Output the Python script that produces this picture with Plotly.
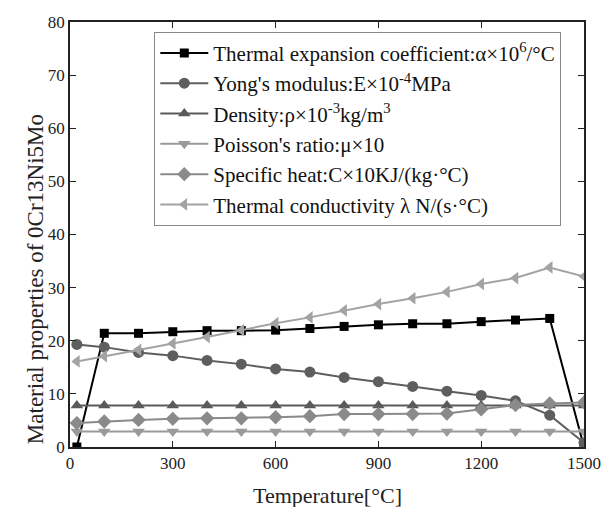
import plotly.graph_objects as go

temps = [20, 100, 200, 300, 400, 500, 600, 700, 800, 900, 1000, 1100, 1200, 1300, 1400, 1500]
thermal_expansion = [0, 21.4, 21.4, 21.7, 21.9, 21.9, 22.0, 22.3, 22.7, 23.0, 23.2, 23.2, 23.6, 23.9, 24.2, 0]
youngs_modulus = [19.3, 18.8, 17.8, 17.2, 16.3, 15.6, 14.7, 14.1, 13.1, 12.3, 11.4, 10.5, 9.7, 8.7, 6.0, 0.8]
density = [7.8] * 16
poisson = [2.9] * 16
specific_heat = [4.5, 4.8, 5.1, 5.3, 5.4, 5.4, 5.6, 5.8, 6.2, 6.2, 6.2, 6.3, 7.1, 7.9, 8.2, 8.4]
conductivity = [16.1, 17.1, 18.3, 19.5, 20.7, 22.0, 23.3, 24.4, 25.7, 26.9, 28.0, 29.2, 30.7, 31.8, 33.8, 32.1]

names = [
    "Thermal expansion coefficient:α×10<sup>6</sup>/°C",
    "Yong's modulus:E×10<sup>-4</sup>MPa",
    "Density:ρ×10<sup>-3</sup>kg/m<sup>3</sup>",
    "Poisson's ratio:μ×10",
    "Specific heat:C×10KJ/(kg·°C)",
    "Thermal conductivity λ N/(s·°C)",
]
series = [thermal_expansion, youngs_modulus, density, poisson, specific_heat, conductivity]
colors = ["#000000", "#5e5e5e", "#5a5a5a", "#9a9a9a", "#8a8a8a", "#a3a3a3"]
symbols = ["square", "circle", "triangle-up", "triangle-down", "diamond", "triangle-left"]
msizes = [9, 11, 11, 11, 11, 11]

fig = go.Figure()
for i, (nm, ys) in enumerate(zip(names, series)):
    fig.add_trace(go.Scatter(
        x=temps, y=ys, name=nm, mode="lines+markers",
        legendgroup=f"g{i}",
        line=dict(color=colors[i], width=2),
        marker=dict(symbol=symbols[i], size=msizes[i], color=colors[i]),
    ))

font_family = "Liberation Serif"
axis_common = dict(
    showline=True, linecolor="#222", linewidth=1.5, mirror="allticks",
    ticks="inside", ticklen=6, tickwidth=1.2, tickcolor="#222",
    showgrid=False, zeroline=False, ticklabeloverflow="allow",
    tickfont=dict(family=font_family, size=17, color="#222"),
)
fig.update_xaxes(range=[0, 1500], tickvals=[0, 300, 600, 900, 1200, 1500], **axis_common)
fig.update_yaxes(range=[0, 80], tickvals=list(range(0, 81, 10)), **axis_common)

fig.add_annotation(text="Material properties of 0Cr13Ni5Mo", textangle=-90,
                   xref="paper", yref="paper", x=-0.068, y=0.395,
                   xanchor="center", yanchor="middle", showarrow=False,
                   font=dict(family=font_family, size=23, color="#222"))
fig.add_annotation(text="Temperature[°C]",
                   xref="paper", yref="paper", x=0.5, y=-0.113,
                   xanchor="center", yanchor="middle", showarrow=False,
                   font=dict(family=font_family, size=22, color="#222"))

fig.update_layout(
    width=613, height=507,
    margin=dict(l=70, r=16, t=22, b=60),
    paper_bgcolor="white", plot_bgcolor="white",
    font=dict(family=font_family, color="#222"),
    legend=dict(
        x=0.164, y=0.977, xanchor="left", yanchor="top",
        bgcolor="white", bordercolor="#888", borderwidth=1,
        font=dict(family=font_family, size=21, color="#111"),
        tracegroupgap=0, itemwidth=48,
    ),
)

fig.write_html("out.html")
